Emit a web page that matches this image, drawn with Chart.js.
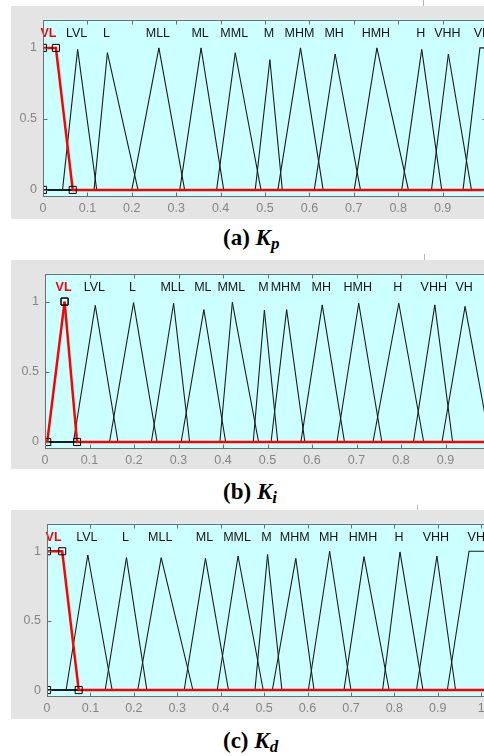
<!doctype html>
<html lang="en">
<head>
<meta charset="utf-8">
<title>Membership functions Kp Ki Kd</title>
<script src="https://cdn.jsdelivr.net/npm/chart.js@4.4.1/dist/chart.umd.min.js"></script>
<style>
  body { margin: 0; width: 484px; height: 756px; overflow: hidden; background: #fff; position: relative; }
  .frame { position: absolute; left: 11px; width: 540px; background: #e4e4e4; }
  .frame canvas { position: absolute; left: 0; top: 0; }
  .tab { position: absolute; background: #fff; border-left: 1px solid #b4b4b4; border-bottom: 1px solid #b4b4b4; }
  .cap { position: absolute; left: 223px; font-family: "Liberation Serif", serif; font-weight: bold; font-size: 23px; line-height: 24px; white-space: nowrap; }
  .cap sub { font-size: 17px; vertical-align: -4px; line-height: 0; }
</style>
</head>
<body>
  <div class="tab" style="left:423px; top:0; width:61px; height:7px"></div>
  <div class="frame" id="fa" style="top:6px; height:213px"><canvas id="ca"></canvas></div>
  <div class="cap" style="top:226px">(a) <i>K<sub>p</sub></i></div>

  <div class="tab" style="left:424px; top:254px; width:60px; height:6px"></div>
  <div class="frame" id="fb" style="top:260px; height:209px"><canvas id="cb"></canvas></div>
  <div class="cap" style="top:480px">(b) <i>K<sub>i</sub></i></div>

  <div class="tab" style="left:417px; top:505px; width:67px; height:5px"></div>
  <div class="frame" id="fc" style="top:510px; height:209px"><canvas id="cc"></canvas></div>
  <div class="cap" style="top:729px">(c) <i>K<sub>d</sub></i></div>

<script>
// membership function names (same for the three outputs)
var mfNames = ['VL', 'LVL', 'L', 'MLL', 'ML', 'MML', 'M', 'MHM', 'MH', 'HMH', 'H', 'VHH', 'VH'];

// trapezoid params a,b,c,d and plotted peak height (triangles have b == c)
var kpA = [0, 0.044, 0.115, 0.200, 0.308, 0.391, 0.478, 0.529, 0.611, 0.701, 0.808, 0.875, 0.946];
var kpB = [0, 0.078, 0.145, 0.261, 0.356, 0.433, 0.511, 0.580, 0.658, 0.752, 0.853, 0.913, 0.984];
var kpC = [0.029, 0.078, 0.145, 0.261, 0.356, 0.433, 0.511, 0.580, 0.658, 0.752, 0.853, 0.913, 1.0];
var kpD = [0.067, 0.121, 0.214, 0.319, 0.407, 0.491, 0.539, 0.631, 0.715, 0.823, 0.898, 0.965, 1.05];
var kpH = [1, 0.99, 0.966, 1, 1, 0.966, 0.917, 1, 0.957, 1, 0.99, 0.957, 1];

var kiA = [0.005, 0.064, 0.145, 0.239, 0.306, 0.393, 0.468, 0.508, 0.575, 0.656, 0.737, 0.828, 0.892];
var kiB = [0.044, 0.113, 0.199, 0.289, 0.357, 0.421, 0.493, 0.543, 0.623, 0.705, 0.795, 0.876, 0.944];
var kiC = [0.044, 0.113, 0.199, 0.289, 0.357, 0.421, 0.493, 0.543, 0.623, 0.705, 0.795, 0.876, 0.944];
var kiD = [0.072, 0.164, 0.252, 0.325, 0.406, 0.480, 0.523, 0.584, 0.673, 0.757, 0.851, 0.916, 1.0];
var kiH = [1, 0.973, 0.993, 0.988, 0.943, 0.995, 0.939, 0.943, 0.977, 0.988, 0.988, 0.977, 0.966];

var kdA = [0, 0.044, 0.134, 0.209, 0.316, 0.392, 0.479, 0.519, 0.602, 0.684, 0.773, 0.851, 0.922];
var kdB = [0, 0.094, 0.183, 0.263, 0.365, 0.440, 0.508, 0.573, 0.651, 0.730, 0.813, 0.898, 0.972];
var kdC = [0.035, 0.094, 0.183, 0.263, 0.365, 0.440, 0.508, 0.573, 0.651, 0.730, 0.813, 0.898, 1.01];
var kdD = [0.073, 0.150, 0.230, 0.336, 0.418, 0.498, 0.541, 0.615, 0.700, 0.788, 0.866, 0.941, 1.06];
var kdH = [1, 0.973, 0.954, 0.954, 0.949, 0.966, 0.977, 0.949, 1, 0.961, 0.995, 0.966, 1];

var xTicks = [0, 0.1, 0.2, 0.3, 0.4, 0.5, 0.6, 0.7, 0.8, 0.9, 1];
var yTicks = [0, 0.5, 1];
var labelY = 1.1;

var CYAN = 'rgb(204,255,255)';
var BOX = '#6e6e6e';

// cyan axes background, box, inward ticks and mf names
var mfPlot = {
  id: 'mfPlot',
  beforeDatasetsDraw: function(chart) {
    var ca = chart.chartArea, ctx = chart.ctx;
    ctx.save();
    ctx.fillStyle = CYAN;
    ctx.fillRect(ca.left, ca.top, ca.right - ca.left, ca.bottom - ca.top);
    ctx.restore();
  },
  afterDatasetsDraw: function(chart, args, opts) {
    var ctx = chart.ctx, ca = chart.chartArea;
    var xs = chart.scales.x, ys = chart.scales.y;
    ctx.save();
    // names
    ctx.textAlign = 'center';
    ctx.textBaseline = 'middle';
    var ty = ys.getPixelForValue(labelY);
    opts.names.forEach(function(n, i) {
      var cx = xs.getPixelForValue((opts.b[i] + opts.c[i]) / 2) - 1;
      if (i === 0) {
        ctx.fillStyle = '#ff0000';
        ctx.font = 'bold 12.5px "Liberation Sans"';
      } else {
        ctx.fillStyle = '#141414';
        ctx.font = '12.5px "Liberation Sans"';
      }
      ctx.fillText(n, cx, ty);
    });
    // box
    var l = Math.round(ca.left) + 0.5, t = Math.round(ca.top) + 0.5;
    var r = Math.round(ca.right) - 0.5, b = Math.round(ca.bottom) - 0.5;
    ctx.strokeStyle = BOX;
    ctx.lineWidth = 1;
    ctx.strokeRect(l, t, r - l, b - t);
    // inward ticks
    ctx.beginPath();
    xTicks.forEach(function(v) {
      var px = Math.round(xs.getPixelForValue(v)) + 0.5;
      ctx.moveTo(px, t); ctx.lineTo(px, t + 4);
      ctx.moveTo(px, b); ctx.lineTo(px, b - 4);
    });
    yTicks.forEach(function(v) {
      var py = Math.round(ys.getPixelForValue(v)) + 0.5;
      ctx.moveTo(l, py); ctx.lineTo(l + 4, py);
      ctx.moveTo(r, py); ctx.lineTo(r - 4, py);
    });
    ctx.stroke();
    ctx.restore();
  }
};

function mfDatasets(A, B, C, D, H) {
  return mfNames.map(function(n, i) {
    var sel = i === 0;
    return {
      label: n,
      data: [{x: -0.1, y: 0}, {x: A[i], y: 0}, {x: B[i], y: H[i]}, {x: C[i], y: H[i]}, {x: D[i], y: 0}, {x: 1.2, y: 0}],
      borderColor: sel ? '#ff0000' : '#1c1c1c',
      borderWidth: sel ? 2.5 : 1.1,
      pointStyle: 'rect',
      pointRadius: sel ? [0, 5, 5, 5, 5, 0] : 0,
      pointBorderColor: '#000',
      pointBackgroundColor: 'rgba(0,0,0,0)',
      pointBorderWidth: 1,
      tension: 0,
      order: sel ? 0 : 1,
      segment: {
        borderColor: function(c) { return c.p0.parsed.x === c.p1.parsed.x ? 'rgba(0,0,0,0)' : undefined; }
      }
    };
  });
}

// frameTop is the grey panel's top; plot edges in page pixels
function makeChart(canvasId, frameTop, frameH, plotL, plotT, plotR, plotB, xMax, A, B, C, D, H) {
  var cv = document.getElementById(canvasId);
  var padR = 20;
  cv.width = plotR - 11 + padR;
  cv.height = frameH;
  return new Chart(cv, {
    type: 'line',
    data: { datasets: mfDatasets(A, B, C, D, H) },
    options: {
      responsive: false,
      animation: false,
      events: [],
      layout: { padding: { top: plotT - frameTop, right: padR, left: 0, bottom: 0 } },
      plugins: {
        legend: { display: false },
        tooltip: { enabled: false },
        mfPlot: { names: mfNames, b: B, c: C }
      },
      scales: {
        x: {
          type: 'linear', min: 0, max: xMax,
          grid: { display: false, drawTicks: false }, border: { display: false },
          afterBuildTicks: function(s) { s.ticks = xTicks.map(function(v) { return {value: v}; }); },
          afterFit: function(s) { s.height = frameTop + frameH - plotB; },
          ticks: {
            color: '#858585', padding: 4, maxRotation: 0, autoSkip: false,
            font: { family: 'Liberation Sans', size: 12.5 },
            callback: function(v) { return String(Math.round(v * 10) / 10); }
          }
        },
        y: {
          type: 'linear', min: -0.05, max: 1.2,
          grid: { display: false, drawTicks: false }, border: { display: false },
          afterBuildTicks: function(s) { s.ticks = yTicks.map(function(v) { return {value: v}; }); },
          afterFit: function(s) { s.width = plotL - 11; },
          ticks: {
            color: '#858585', padding: 6,
            font: { family: 'Liberation Sans', size: 12.5 },
            callback: function(v) { return String(v); }
          }
        }
      }
    },
    plugins: [mfPlot]
  });
}

makeChart('ca', 6, 213, 43, 12, 487, 197, 1.0, kpA, kpB, kpC, kpD, kpH);
makeChart('cb', 260, 209, 45, 264, 490, 449, 1.0, kiA, kiB, kiC, kiD, kiH);
makeChart('cc', 510, 209, 47, 514, 489, 697, 1.018, kdA, kdB, kdC, kdD, kdH);
</script>
</body>
</html>
